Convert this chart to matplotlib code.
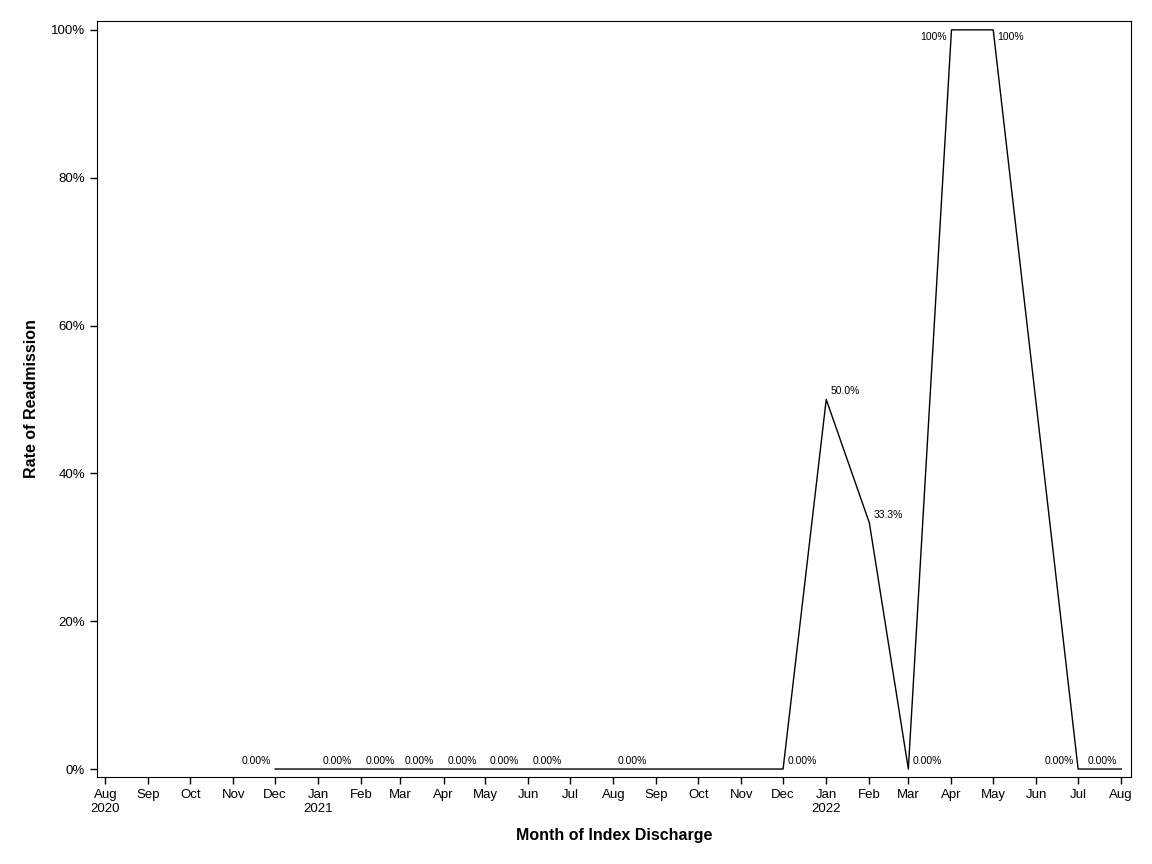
import matplotlib
matplotlib.use("Agg")
import matplotlib.pyplot as plt
import datetime

plt.rcParams['font.family'] = ['Liberation Sans', 'DejaVu Sans']

# monthly readmission rate (only months with index discharges)
months = ["2020-12", "2021-01", "2021-02", "2021-03", "2021-04", "2021-05", "2021-06",
          "2021-08", "2021-12", "2022-01", "2022-02", "2022-03", "2022-04", "2022-05",
          "2022-07", "2022-08"]
rates = [0.0, 0.0, 0.0, 0.0, 0.0, 0.0, 0.0,
         0.0, 0.0, 0.50, 0.333, 0.0, 1.0, 1.0,
         0.0, 0.0]
point_labels = ["0.00%", "0.00%", "0.00%", "0.00%", "0.00%", "0.00%", "0.00%",
                "0.00%", "0.00%", "50.0%", "33.3%", "0.00%", "100%", "100%",
                "0.00%", "0.00%"]
# where the label sits relative to its point: L/R = left/right above, BL/BR = below
label_side = ["L", "R", "R", "R", "R", "R", "R",
              "R", "R", "R", "R", "R", "BL", "BR",
              "L", "L"]

tick_months = ["2020-08", "2020-09", "2020-10", "2020-11", "2020-12", "2021-01", "2021-02",
               "2021-03", "2021-04", "2021-05", "2021-06", "2021-07", "2021-08", "2021-09",
               "2021-10", "2021-11", "2021-12", "2022-01", "2022-02", "2022-03", "2022-04",
               "2022-05", "2022-06", "2022-07", "2022-08"]
tick_labels = ["Aug\n2020", "Sep", "Oct", "Nov", "Dec", "Jan\n2021", "Feb", "Mar", "Apr",
               "May", "Jun", "Jul", "Aug", "Sep", "Oct", "Nov", "Dec", "Jan\n2022", "Feb",
               "Mar", "Apr", "May", "Jun", "Jul", "Aug"]

def to_date(s):
    y, m = s.split("-")
    return datetime.date(int(y), int(m), 1)

x = [to_date(m) for m in months]
y = [r * 100 for r in rates]

fig = plt.figure(figsize=(11.52, 8.64), dpi=100)
ax = fig.add_axes([97/1152, 1 - 777/864, (1131-97)/1152, (777-21)/864])

ax.plot(x, y, color='black', linewidth=1)

offsets = {"L": (-3, 6, 'right'), "R": (3, 6, 'left'),
           "BL": (-3, -5, 'right'), "BR": (3, -5, 'left')}
for xi, yi, lab, side in zip(x, y, point_labels, label_side):
    dx, dy, ha = offsets[side]
    ax.annotate(lab, (xi, yi), xytext=(dx, dy), textcoords='offset points',
                ha=ha, va='center', fontsize=7.5)

ax.set_xlim(datetime.date(2020, 7, 26), datetime.date(2022, 8, 8))
ax.set_ylim(-1.08, 101.2)
ax.set_xticks([to_date(m) for m in tick_months])
ax.set_xticklabels(tick_labels, fontsize=9.5)
ax.set_yticks([0, 20, 40, 60, 80, 100])
ax.set_yticklabels(["0%", "20%", "40%", "60%", "80%", "100%"], fontsize=9.5)
ax.tick_params(direction='out', length=5, width=1)

ax.set_xlabel("Month of Index Discharge", fontsize=11.5, fontweight='bold', labelpad=10)
ax.set_ylabel("Rate of Readmission", fontsize=11.5, fontweight='bold', labelpad=9)

fig.savefig("out.png", dpi=100)
